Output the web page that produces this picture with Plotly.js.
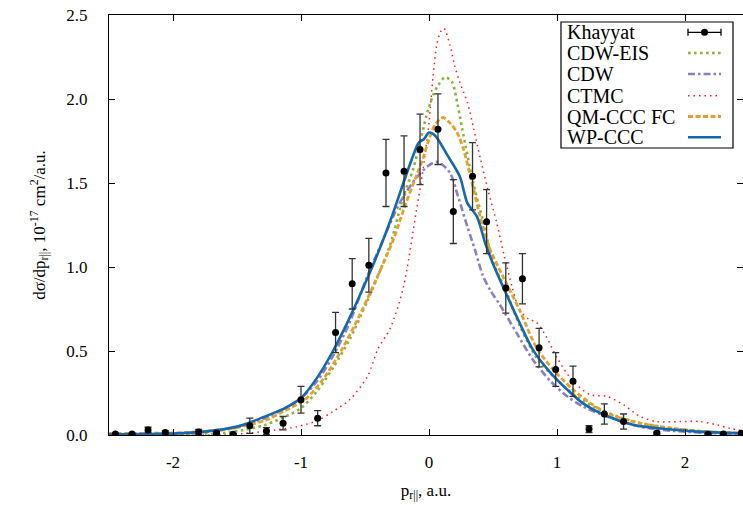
<!DOCTYPE html>
<html>
<head>
<meta charset="utf-8">
<script src="https://cdn.plot.ly/plotly-3.0.1.min.js"></script>
<style>html,body{margin:0;padding:0;background:#fff;}#plot{width:743px;height:505px;}</style>
</head>
<body>
<div id="plot"></div>
<script>
// Experimental data (Khayyat)
const khX = [-2.45,-2.32,-2.195,-2.06,-1.80,-1.66,-1.53,-1.40,-1.27,-1.14,-1.0,-0.87,-0.73,-0.60,-0.47,-0.336,-0.195,-0.07,0.07,0.19,0.34,0.45,0.60,0.73,0.86,0.99,1.125,1.25,1.37,1.52,1.78,2.18,2.30,2.44];
const khY = [0.006,0.006,0.03,0.015,0.018,0.012,0.004,0.055,0.024,0.07,0.21,0.10,0.61,0.90,1.01,1.56,1.57,1.70,1.82,1.33,1.54,1.27,0.875,0.93,0.52,0.39,0.32,0.035,0.125,0.08,0.012,0.004,0.006,0.01];
const khErr = [0.004,0.004,0.016,0.01,0.015,0.008,0.004,0.045,0.02,0.04,0.08,0.045,0.12,0.15,0.16,0.20,0.21,0.21,0.21,0.19,0.20,0.19,0.15,0.15,0.115,0.10,0.09,0.02,0.06,0.045,0.006,0.004,0.004,0.006];

// CDW-EIS
const eisX = [-2.5,-2.0,-1.75,-1.6,-1.45,-1.3,-1.15,-1.0,-0.875,-0.75,-0.62,-0.48,-0.36,-0.3,-0.2,-0.125,-0.07,-0.02,0.03,0.07,0.125,0.18,0.22,0.26,0.34,0.42,0.5,0.6,0.71,0.84,0.97,1.15,1.34,1.6,2.0,2.45];
const eisY = [0.0,0.001,0.003,0.012,0.03,0.055,0.10,0.16,0.26,0.40,0.57,0.80,1.02,1.14,1.42,1.58,1.74,1.90,2.02,2.08,2.13,2.10,1.98,1.82,1.52,1.28,1.03,0.86,0.65,0.46,0.35,0.23,0.15,0.08,0.03,0.01];

// CDW
const cdwX = [-2.5,-2.0,-1.75,-1.5,-1.25,-1.0,-0.875,-0.75,-0.625,-0.49,-0.36,-0.23,-0.1,0.008,0.07,0.164,0.227,0.30,0.36,0.42,0.48,0.55,0.69,0.81,0.95,1.08,1.2,1.39,1.65,1.9,2.25,2.45];
const cdwY = [0.003,0.008,0.018,0.045,0.11,0.22,0.32,0.47,0.66,0.93,1.16,1.38,1.53,1.61,1.625,1.56,1.42,1.24,1.10,0.95,0.86,0.78,0.60,0.45,0.32,0.23,0.17,0.11,0.05,0.025,0.01,0.005];

// CTMC
const ctmcX = [-2.5,-2.0,-1.6,-1.4,-1.2,-1.03,-0.875,-0.75,-0.62,-0.48,-0.4,-0.3,-0.2,-0.1,-0.05,0.0,0.03,0.06,0.09,0.117,0.164,0.2,0.24,0.3,0.35,0.4,0.46,0.53,0.59,0.65,0.71,0.78,0.84,0.92,1.0,1.125,1.26,1.39,1.52,1.65,1.78,1.96,2.12,2.25,2.35,2.45];
const ctmcY = [0.0,0.0,0.002,0.012,0.03,0.05,0.085,0.14,0.21,0.35,0.51,0.64,0.88,1.33,1.56,1.86,2.12,2.32,2.40,2.42,2.32,2.20,2.10,1.98,1.82,1.65,1.46,1.26,1.06,0.88,0.74,0.69,0.67,0.58,0.46,0.32,0.24,0.23,0.18,0.11,0.08,0.08,0.08,0.06,0.04,0.025];

// QM-CCC FC
const qmX = [-2.5,-2.0,-1.75,-1.5,-1.27,-1.14,-0.97,-0.82,-0.68,-0.55,-0.44,-0.28,-0.19,-0.11,-0.05,0.0,0.05,0.11,0.16,0.22,0.27,0.33,0.4,0.48,0.58,0.71,0.84,0.97,1.125,1.26,1.39,1.65,1.9,2.17,2.45];
const qmY = [0.01,0.012,0.022,0.045,0.09,0.14,0.21,0.34,0.51,0.70,0.88,1.16,1.36,1.52,1.64,1.76,1.85,1.89,1.86,1.80,1.70,1.52,1.30,1.10,0.94,0.74,0.52,0.39,0.27,0.19,0.13,0.07,0.04,0.02,0.01];

// WP-CCC
const wpX = [-2.5,-2.25,-2.0,-1.75,-1.5,-1.4,-1.25,-1.125,-1.0,-0.875,-0.75,-0.625,-0.5,-0.4,-0.3,-0.2,-0.13,-0.08,-0.04,0.0,0.05,0.14,0.24,0.3,0.375,0.44,0.5,0.58,0.7,0.81,0.95,1.08,1.2,1.4,1.6,1.85,2.1,2.45];
const wpY = [0.003,0.005,0.008,0.02,0.05,0.075,0.12,0.16,0.22,0.34,0.50,0.69,0.90,1.08,1.28,1.50,1.65,1.74,1.76,1.80,1.78,1.67,1.54,1.38,1.30,1.14,1.02,0.88,0.68,0.51,0.37,0.27,0.19,0.11,0.06,0.036,0.02,0.01];

const seriesNames = ["Khayyat","CDW-EIS","CDW","CTMC","QM-CCC FC","WP-CCC"];
const xTickVals = [-2,-1,0,1,2];
const xTickText = ["-2","-1","0","1","2"];
const yTickVals = [0,0.5,1,1.5,2,2.5];
const yTickText = ["0.0","0.5","1.0","1.5","2.0","2.5"];

const FONT = "Liberation Serif";
const styles = {
  "CDW-EIS": {color:"#8bb33a", width:2.6, dash:"2.6px,3.4px"},
  "CDW": {color:"#8a80c0", width:2.6, dash:"7px,3px,2.5px,3px"},
  "CTMC": {color:"#ff1a1a", width:1.5, dash:"1.5px,4px"},
  "QM-CCC FC": {color:"#e89f2a", width:2.8, dash:"5px,2.5px"},
  "WP-CCC": {color:"#1468b0", width:2.6, dash:"solid"}
};
const curveData = {
  "CDW-EIS": [eisX, eisY],
  "CDW": [cdwX, cdwY],
  "CTMC": [ctmcX, ctmcY],
  "QM-CCC FC": [qmX, qmY],
  "WP-CCC": [wpX, wpY]
};

const traces = [];
["CTMC","CDW","CDW-EIS","QM-CCC FC","WP-CCC"].forEach(n => {
  traces.push({
    x: curveData[n][0], y: curveData[n][1], name: n, type: "scatter", mode: "lines",
    line: {color: styles[n].color, width: styles[n].width, dash: styles[n].dash, shape: "spline", smoothing: 0.8},
    showlegend: false, hoverinfo: "skip"
  });
});
traces.push({
  x: khX, y: khY, name: "Khayyat", type: "scatter", mode: "markers",
  marker: {color: "#000", size: 7},
  error_y: {type: "data", array: khErr, visible: true, color: "#333", thickness: 1.3, width: 3.5},
  showlegend: false
});

// Custom gnuplot-style legend (text left, sample right)
const L = 109, W = 634, T = 15, H = 420;
const px = v => (v - L) / W;
const py = v => 1 - (v - T) / H;
const shapes = [{type:"rect", xref:"paper", yref:"paper", x0:px(561), x1:px(733), y0:py(148), y1:py(22),
  line:{color:"#000", width:1.2}, fillcolor:"#fff", layer:"above"}];
const annotations = [];
const rowY = [32.3, 53.0, 74.0, 95.8, 116.5, 137.3];
const sx0 = px(688), sx1 = px(721);
seriesNames.forEach((n, i) => {
  const yy = py(rowY[i]);
  annotations.push({text: n, xref:"paper", yref:"paper", x: px(565), y: yy, xanchor:"left", yanchor:"middle",
    showarrow:false, font:{family:FONT, size:20, color:"#000"}});
  if (n === "Khayyat") {
    shapes.push({type:"line", xref:"paper", yref:"paper", x0:sx0, x1:sx1, y0:yy, y1:yy, line:{color:"#000", width:1.3}});
    [sx0, sx1].forEach(xx => shapes.push({type:"line", xref:"paper", yref:"paper", xsizemode:"scaled", x0:xx, x1:xx,
      ysizemode:"pixel", yanchor:yy, y0:-3.5, y1:3.5, line:{color:"#000", width:1.3}}));
    shapes.push({type:"circle", xref:"paper", yref:"paper", xsizemode:"pixel", xanchor:(sx0+sx1)/2, x0:-3.5, x1:3.5,
      ysizemode:"pixel", yanchor:yy, y0:-3.5, y1:3.5, fillcolor:"#000", line:{color:"#000", width:0}});
  } else {
    const s = styles[n];
    shapes.push({type:"line", xref:"paper", yref:"paper", x0:sx0, x1:sx1, y0:yy, y1:yy,
      line:{color:s.color, width:s.width, dash:s.dash}});
  }
});

const layout = {
  width: 743, height: 505,
  margin: {l: L, r: 0, t: T, b: 70},
  paper_bgcolor: "#fff", plot_bgcolor: "#fff",
  font: {family: FONT, size: 16, color: "#000"},
  showlegend: false,
  xaxis: {
    range: [-2.5, -2.5 + W/128], tickvals: xTickVals, ticktext: xTickText,
    ticks: "inside", ticklen: 6, tickcolor: "#000", tickwidth: 1,
    showline: true, linecolor: "#000", linewidth: 1, mirror: "ticks",
    showgrid: false, zeroline: false, ticklabelstandoff: 12,
    tickfont: {family: FONT, size: 17, color: "#000"},
    title: {text: "p<sub>r||</sub>, a.u.", font: {family: FONT, size: 17}, standoff: 12}
  },
  yaxis: {
    range: [0, 2.5], tickvals: yTickVals, ticktext: yTickText,
    ticks: "inside", ticklen: 6, tickcolor: "#000", tickwidth: 1,
    showline: true, linecolor: "#000", linewidth: 1, mirror: "ticks",
    showgrid: false, zeroline: false, ticklabelstandoff: 17,
    tickfont: {family: FONT, size: 17, color: "#000"},
    title: {text: "dσ/dp<sub>r||</sub>, 10<sup>-17</sup> cm<sup>2</sup>/a.u.", font: {family: FONT, size: 17}, standoff: 16}
  },
  shapes: shapes,
  annotations: annotations
};

Plotly.newPlot("plot", traces, layout, {displayModeBar: false, staticPlot: true});
</script>
</body>
</html>
